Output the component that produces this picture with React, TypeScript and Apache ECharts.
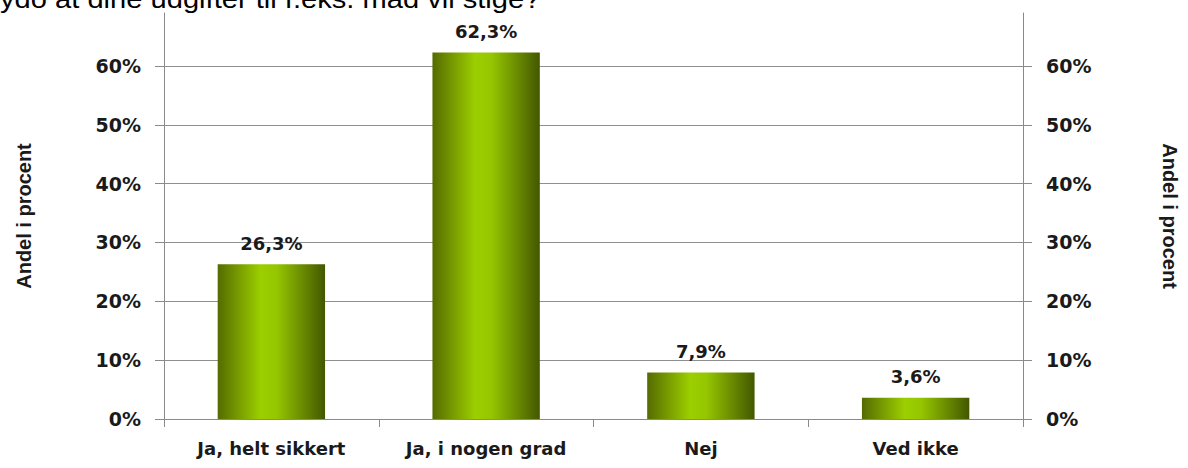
import React, { useEffect, useRef } from "react";
import * as echarts from "echarts";

const categories = ["Ja, helt sikkert", "Ja, i nogen grad", "Nej", "Ved ikke"];
const values = [26.3, 62.3, 7.9, 3.6];
const axisTitle = "Andel i procent";
const headline = "ydo at dine udgifter til f.eks. mad vil stige?";

const fmtPct = (v: number) => v.toFixed(1).replace(".", ",") + "%";

export default function App() {
  const ref = useRef<HTMLDivElement>(null);
  useEffect(() => {
    if (!ref.current) return;
    const chart = echarts.init(ref.current, undefined, { renderer: "svg" });
    const font = "DejaVu Sans";
    const labelStyle = { fontFamily: font, fontWeight: "bold" as const, fontSize: 18, color: "#1a1a1a" };
    const yCommon = {
      type: "value" as const,
      min: 0,
      max: 69,
      interval: 10,
      nameLocation: "middle" as const,
      nameTextStyle: { fontFamily: "Liberation Sans", fontWeight: "bold" as const, fontSize: 20, color: "#1a1a1a" },
      axisLine: { show: true, lineStyle: { color: "#8a8a8a", width: 1 } },
      axisTick: { show: true, length: 9, lineStyle: { color: "#8a8a8a" } },
      axisLabel: {
        ...labelStyle,
        fontSize: 19,
        margin: 23,
        showMaxLabel: false,
        formatter: (v: number) => Math.round(v) + "%",
      },
    };
    chart.setOption({
      animation: false,
      backgroundColor: "#ffffff",
      grid: { left: 164, right: 159, top: 13, bottom: 49, containLabel: false },
      graphic: [
        {
          type: "text",
          x: 0,
          y: -14,
          scaleX: 1.12,
          style: { text: headline, fontFamily: "Liberation Sans", fontSize: 26, fill: "#000" },
        },
      ],
      xAxis: {
        type: "category",
        data: categories,
        axisLine: { show: true, lineStyle: { color: "#8a8a8a", width: 1 } },
        axisTick: { show: true, length: 8, alignWithLabel: false, lineStyle: { color: "#8a8a8a" } },
        axisLabel: { ...labelStyle, margin: 20, interval: 0 },
      },
      yAxis: [
        {
          ...yCommon,
          position: "left",
          name: axisTitle,
          nameRotate: 90,
          nameGap: 130,
          splitLine: { show: true, showMaxLine: false, lineStyle: { color: "#8f8f8f", width: 1 } },
        },
        {
          ...yCommon,
          position: "right",
          name: axisTitle,
          nameRotate: -90,
          nameGap: 137,
          splitLine: { show: false },
        },
      ],
      series: [
        {
          type: "bar",
          yAxisIndex: 0,
          data: values,
          barWidth: "50%",
          itemStyle: {
            color: new echarts.graphic.LinearGradient(0, 0, 1, 0, [
              { offset: 0, color: "#556b00" },
              { offset: 0.4, color: "#9ccf00" },
              { offset: 0.55, color: "#95c600" },
              { offset: 1, color: "#435700" },
            ]),
          },
          label: {
            show: true,
            position: "top",
            distance: 12,
            ...labelStyle,
            fontSize: 18,
            formatter: (p: any) => fmtPct(p.value),
          },
        },
      ],
    });
    return () => chart.dispose();
  }, []);
  return <div ref={ref} style={{ width: 1188, height: 468, position: "absolute", left: 0, top: 0 }} />;
}
